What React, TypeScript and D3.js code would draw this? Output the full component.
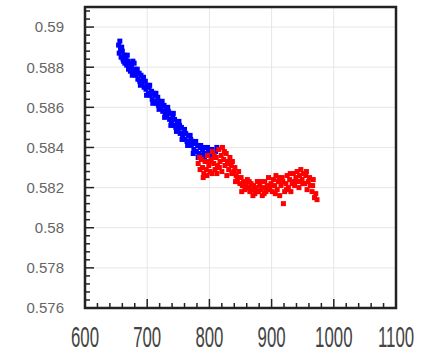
import React, { useEffect, useRef } from 'react';
import * as d3 from 'd3';

// blue series
const blueX = [654, 655, 656, 657, 658, 660, 661, 663, 664, 666, 667, 669, 670, 672, 673, 675, 677, 678, 680, 682, 683, 685, 687, 688, 690, 692, 693, 695, 697, 698, 700, 702, 703, 705, 707, 708, 710, 712, 713, 715, 717, 718, 720, 722, 723, 725, 727, 729, 730, 732, 734, 736, 737, 739, 741, 743, 744, 746, 748, 750, 752, 753, 755, 757, 759, 761, 762, 764, 766, 768, 770, 771, 773, 775, 777, 779, 781, 783, 785, 787, 789, 791, 793, 795, 798, 801, 804, 807, 810,
  659, 662, 668, 671, 676, 679, 684, 689, 694, 699, 704, 709, 714, 719, 724, 728, 733, 738, 742, 747, 751, 756, 760, 765, 769, 774, 778, 782, 786, 792, 797, 803, 812];
const blueY = [0.5891, 0.5887, 0.5893, 0.5889, 0.5885, 0.5888, 0.5884, 0.5886, 0.5882, 0.5885, 0.5881, 0.5883, 0.5879, 0.5882, 0.5878, 0.588, 0.5883, 0.5877, 0.5879, 0.5876, 0.5878, 0.5874, 0.5877, 0.5873, 0.5876, 0.5872, 0.5874, 0.587, 0.5873, 0.5869, 0.5871, 0.5867, 0.587, 0.5866, 0.5868, 0.5864, 0.5867, 0.5863, 0.5866, 0.5862, 0.5865, 0.5861, 0.5863, 0.586, 0.5862, 0.5858, 0.5861, 0.5857, 0.5859, 0.5856, 0.5858, 0.5854, 0.5857, 0.5853, 0.5855, 0.5851, 0.5854, 0.585, 0.5852, 0.5849, 0.5851, 0.5847, 0.585, 0.5846, 0.5848, 0.5844, 0.5847, 0.5843, 0.5846, 0.5842, 0.5844, 0.5841, 0.5843, 0.5839, 0.5842, 0.5838, 0.5841, 0.5837, 0.584, 0.5836, 0.5839, 0.5837, 0.584, 0.5836, 0.5838, 0.5837, 0.5839, 0.5836, 0.5838,
  0.589, 0.5883, 0.5886, 0.588, 0.5876, 0.5882, 0.5879, 0.5871, 0.5875, 0.5866, 0.5871, 0.5862, 0.5867, 0.5859, 0.5863, 0.5855, 0.586, 0.5851, 0.5857, 0.5848, 0.5853, 0.5844, 0.5849, 0.5841, 0.5846, 0.5837, 0.5843, 0.5835, 0.5841, 0.5835, 0.584, 0.5835, 0.584];

// red series
const redX = [782, 785, 787, 789, 791, 793, 795, 797, 799, 801, 803, 805, 807, 809, 811, 813, 815, 817, 819, 821, 823, 825, 827, 829, 831, 833, 835, 837, 839, 841, 843, 845, 847, 849, 851, 853, 855, 857, 859, 861, 863, 865, 867, 869, 871, 873, 875, 877, 879, 881, 883, 885, 887, 889, 891, 893, 895, 897, 899, 901, 903, 905, 907, 909, 911, 913, 915, 917, 919, 921, 923, 925, 927, 929, 931, 933, 935, 937, 939, 941, 943, 945, 947, 949, 951, 953, 955, 957, 959, 962, 965, 967, 969, 971, 973,
  784, 790, 796, 800, 804, 808, 812, 816, 820, 824, 828, 832, 836, 842, 848, 852, 858, 864, 870, 876, 882, 888, 894, 900, 906, 912, 918, 924, 930, 936, 944, 950, 956, 961, 966];
const redY = [0.5832, 0.5829, 0.5834, 0.583, 0.5827, 0.5833, 0.5829, 0.5836, 0.5831, 0.5828, 0.5834, 0.5838, 0.5832, 0.5829, 0.5835, 0.5831, 0.5839, 0.5833, 0.5836, 0.584, 0.5834, 0.5831, 0.5837, 0.5833, 0.5829, 0.5835, 0.5831, 0.5833, 0.5828, 0.583, 0.5826, 0.5824, 0.5828, 0.5822, 0.5825, 0.5821, 0.5823, 0.5819, 0.5822, 0.5824, 0.582, 0.5818, 0.5822, 0.5819, 0.5821, 0.5817, 0.582, 0.5823, 0.5818, 0.5821, 0.5819, 0.5816, 0.582, 0.5823, 0.5818, 0.5821, 0.5825, 0.582, 0.5822, 0.5818, 0.5824, 0.5821, 0.5826, 0.5819, 0.5823, 0.5816, 0.5821, 0.5825, 0.5812, 0.5818, 0.5822, 0.5826, 0.582, 0.5824, 0.5818, 0.5822, 0.5827, 0.5821, 0.5825, 0.5828, 0.5823, 0.5826, 0.5829, 0.5824, 0.5827, 0.5822, 0.5826, 0.5819, 0.5823, 0.5821, 0.5818, 0.5824, 0.5815, 0.5817, 0.5814,
  0.5835, 0.5825, 0.5826, 0.5833, 0.5827, 0.5836, 0.5827, 0.583, 0.5828, 0.5838, 0.5826, 0.5832, 0.5827, 0.5823, 0.5825, 0.5818, 0.5821, 0.5823, 0.5816, 0.5818, 0.5823, 0.5817, 0.5819, 0.5821, 0.5817, 0.5825, 0.5823, 0.5819, 0.5827, 0.5823, 0.582, 0.5822, 0.5828, 0.5825, 0.5821];

const xTicks = [600, 700, 800, 900, 1000, 1100];
const yTicks = [0.576, 0.578, 0.58, 0.582, 0.584, 0.586, 0.588, 0.59];

const App = () => {
  const svgRef = useRef<SVGSVGElement>(null);

  useEffect(() => {
    const svg = d3.select(svgRef.current);
    svg.selectAll('*').remove();

    const left = 85, right = 396, top = 7, bottom = 308;

    const x = d3.scaleLinear().domain([600, 1100]).range([left, right]);
    const y = d3.scaleLinear().domain([0.576, 0.591]).range([bottom, top]);

    // grid
    svg.append('g')
      .selectAll('line')
      .data(xTicks.slice(1, -1))
      .enter()
      .append('line')
      .attr('x1', (d) => x(d)).attr('x2', (d) => x(d))
      .attr('y1', top).attr('y2', bottom)
      .attr('stroke', '#e6e6e6');
    svg.append('g')
      .selectAll('line')
      .data(yTicks.slice(1))
      .enter()
      .append('line')
      .attr('x1', left).attr('x2', right)
      .attr('y1', (d) => y(d)).attr('y2', (d) => y(d))
      .attr('stroke', '#e6e6e6');

    // points
    const drawPts = (xs: number[], ys: number[], color: string) => {
      svg.append('g')
        .selectAll('rect')
        .data(xs.map((v, i) => [v, ys[i]]))
        .enter()
        .append('rect')
        .attr('x', (d) => x(d[0]) - 2.5)
        .attr('y', (d) => y(d[1]) - 2.5)
        .attr('width', 5)
        .attr('height', 5)
        .attr('fill', color);
    };
    drawPts(blueX, blueY, '#0000ff');
    drawPts(redX, redY, '#ff0000');

    // minor + major ticks, pointing inward
    const xMinor = d3.range(600, 1101, 20);
    svg.append('g')
      .selectAll('line')
      .data(xMinor)
      .enter()
      .append('line')
      .attr('x1', (d) => x(d)).attr('x2', (d) => x(d))
      .attr('y1', bottom)
      .attr('y2', (d) => bottom - (d % 100 === 0 ? 9 : 5))
      .attr('stroke', '#222')
      .attr('stroke-width', 1.5);
    const yMinor = d3.range(0, 38).map((i) => 0.576 + i * 0.0004);
    svg.append('g')
      .selectAll('line')
      .data(yMinor)
      .enter()
      .append('line')
      .attr('y1', (d) => y(d)).attr('y2', (d) => y(d))
      .attr('x1', left)
      .attr('x2', (_d, i) => left + (i % 5 === 0 ? 9 : 5))
      .attr('stroke', '#222')
      .attr('stroke-width', 1.5);

    // frame
    svg.append('rect')
      .attr('x', left).attr('y', top)
      .attr('width', right - left).attr('height', bottom - top)
      .attr('fill', 'none')
      .attr('stroke', '#222')
      .attr('stroke-width', 2.5);

    // y labels
    svg.append('g')
      .selectAll('text')
      .data(yTicks)
      .enter()
      .append('text')
      .attr('x', 64)
      .attr('y', (d) => y(d))
      .attr('dy', '0.36em')
      .attr('text-anchor', 'end')
      .attr('font-family', 'Liberation Sans, Arial, sans-serif')
      .attr('font-size', 15)
      .attr('fill', '#666')
      .text((d) => d3.format('')(+d.toFixed(3)));

    // x labels (condensed)
    svg.append('g')
      .selectAll('text')
      .data(xTicks)
      .enter()
      .append('text')
      .attr('transform', (d) => `translate(${x(d)},347) scale(0.56,1)`)
      .attr('text-anchor', 'middle')
      .attr('font-family', 'Liberation Sans, Arial, sans-serif')
      .attr('font-size', 30)
      .attr('fill', '#444')
      .text((d) => d);
  }, []);

  return (
    <svg ref={svgRef} width={423} height={354}
      style={{ position: 'absolute', left: 0, top: 0, background: '#fff' }} />
  );
};

export default App;
